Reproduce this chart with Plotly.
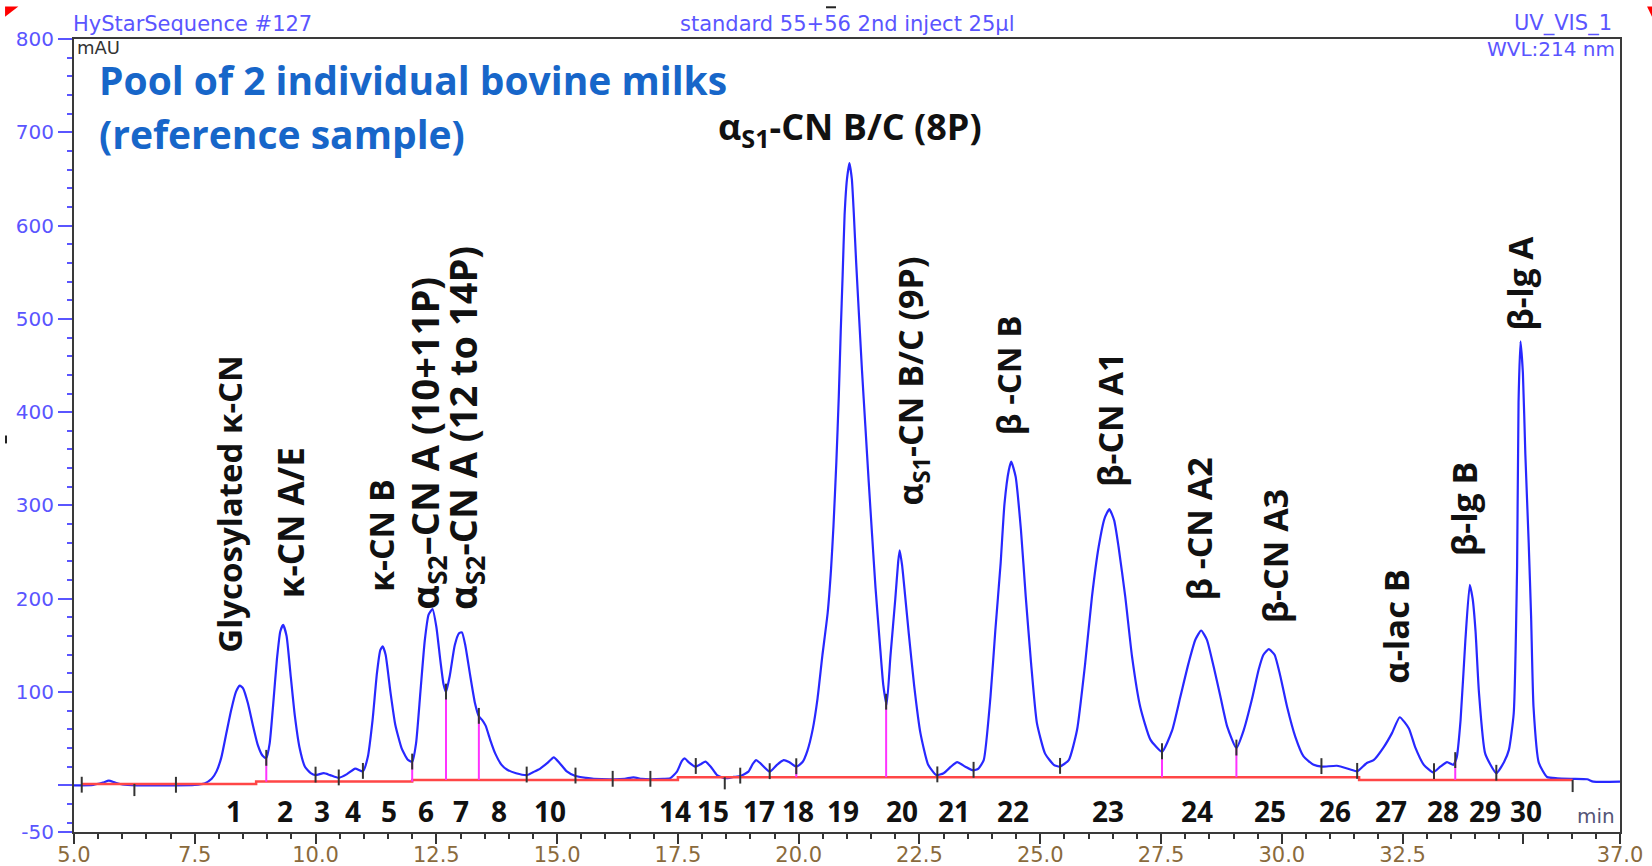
import numpy as np
import plotly.graph_objects as go

# ---------------- data ----------------
time_min = [5.0, 5.4, 5.6, 5.72, 5.85, 6.0, 6.3, 7.0, 7.5, 7.7, 7.85, 7.95, 8.05, 8.15, 8.25, 8.35, 8.43, 8.5, 8.6, 8.7,
            8.8, 8.9, 8.98, 9.05, 9.12, 9.2, 9.27, 9.33, 9.4, 9.48, 9.57, 9.67, 9.78, 9.9, 10.0, 10.17, 10.3, 10.48,
            10.65, 10.82, 10.98, 11.08, 11.18, 11.27, 11.34, 11.39, 11.45, 11.55, 11.65, 11.78, 11.9, 12.0, 12.08,
            12.17, 12.26, 12.34, 12.42, 12.5, 12.58, 12.65, 12.7, 12.78, 12.88, 12.97, 13.03, 13.1, 13.2, 13.3, 13.38,
            13.45, 13.52, 13.62, 13.72, 13.85, 13.96, 14.15, 14.38, 14.5, 14.65, 14.8, 14.93, 15.05, 15.2, 15.38,
            15.6, 15.76, 16.17, 16.4, 16.58, 16.75, 16.93, 17.2, 17.34, 17.48, 17.58, 17.64, 17.72, 17.86, 17.98,
            18.07, 18.18, 18.31, 18.48, 18.65, 18.8, 18.96, 19.05, 19.12, 19.2, 19.4, 19.55, 19.69, 19.8, 19.95,
            20.08, 20.18, 20.29, 20.39, 20.49, 20.6, 20.67, 20.72, 20.78, 20.83, 20.87, 20.91, 20.95, 21.0, 21.05,
            21.1, 21.14, 21.19, 21.25, 21.31, 21.38, 21.45, 21.52, 21.59, 21.68, 21.75, 21.82, 21.9, 22.0, 22.06,
            22.09, 22.14, 22.2, 22.28, 22.39, 22.52, 22.68, 22.85, 23.0, 23.15, 23.28, 23.45, 23.61, 23.72, 23.83,
            23.97, 24.07, 24.18, 24.26, 24.35, 24.4, 24.49, 24.6, 24.7, 24.81, 24.93, 25.1, 25.28, 25.4, 25.59,
            25.76, 25.93, 26.07, 26.21, 26.33, 26.43, 26.53, 26.62, 26.76, 26.9, 27.07, 27.28, 27.52, 27.73, 27.9,
            28.07, 28.21, 28.33, 28.45, 28.59, 28.73, 28.87, 29.06, 29.21, 29.38, 29.52, 29.62, 29.73, 29.85, 29.97,
            30.11, 30.28, 30.45, 30.66, 30.83, 31.14, 31.42, 31.56, 31.76, 31.9, 32.11, 32.28, 32.44, 32.63, 32.76,
            32.94, 33.13, 33.28, 33.42, 33.55, 33.62, 33.7, 33.8, 33.89, 33.95, 34.01, 34.08, 34.21, 34.44, 34.6,
            34.7, 34.8, 34.87, 34.9, 34.94, 34.99, 35.04, 35.11, 35.16, 35.21, 35.32, 35.49, 35.7, 36.0, 36.32,
            36.45, 37.0]
absorbance_mAU = [0, 0.5, 3, 5, 3, 1, 0, 0, 0.5, 2, 7, 15, 30, 55, 80, 100, 107, 104, 88, 65,
                  44, 32, 29, 45, 85, 135, 165, 172, 160, 120, 75, 40, 20, 13, 11, 13, 11, 8,
                  12, 18, 15, 30, 70, 120, 145, 149, 140, 100, 65, 40, 28, 25, 45,
                  100, 155, 183, 189, 170, 135, 108, 100, 118, 150, 163, 164, 150, 118, 88, 74,
                  70, 64, 48, 34, 22, 17, 13, 11, 14, 18, 24, 30, 24, 15, 10,
                  8, 7, 6.5, 7, 8.6, 7, 6.5, 7, 7.6, 14.7, 26, 29, 25, 20, 23,
                  25.4, 20, 11, 7.6, 9, 10, 14.7, 23, 27, 24, 14.7, 22, 27, 25, 20,
                  25, 37, 60, 93, 139, 185, 232, 278, 347, 417, 486, 547, 611, 650, 667,
                  650, 614, 560, 502, 445, 385, 325, 268, 212, 152, 108, 86, 139, 200, 240,
                  252, 236, 205, 162, 107, 56, 22, 11, 13, 20, 25, 20, 16, 18, 27,
                  95, 166, 238, 302, 338, 347, 331, 274, 202, 131, 67, 34, 22, 20, 27,
                  59, 131, 202, 256, 286, 296, 284, 256, 202, 138, 84, 49, 36, 59, 95,
                  131, 156, 166, 156, 127, 95, 63, 40, 59, 92, 124, 140, 146, 140, 117,
                  84, 52, 31, 22, 20, 21, 17, 15, 24, 27, 41, 56, 73, 61, 41,
                  22, 14, 20, 25, 22, 30, 70, 156, 215, 200, 165, 100, 34, 13, 25,
                  38, 77, 234, 410, 476, 442, 356, 260, 181, 84, 24, 9, 7.6, 7, 6.5,
                  4, 4]

# integration baseline segments (start, end, level in mAU)
baseline_start = [5.16, 8.77, 12.0, 17.5, 31.6]
baseline_end = [8.77, 12.0, 17.5, 31.6, 36.02]
baseline_level = [1.5, 4.0, 5.8, 8.7, 5.8]

# peak boundary markers (min) and those with perpendicular drop lines
boundary_times = [5.16, 6.25, 7.11, 8.98, 10.0, 10.48, 10.98, 12.0, 12.70, 13.38, 14.37, 15.38, 16.15, 16.93,
                  17.87, 18.47, 18.79, 19.4, 19.95, 21.81, 22.87, 23.62, 25.41, 27.52, 29.06, 30.82, 31.56,
                  33.15, 33.59, 34.44, 36.02]
boundary_below = [6.25, 18.47, 36.02]
drop_times = [8.98, 12.0, 12.70, 13.38, 19.95, 21.81, 27.52, 29.06, 33.59]

# peak numbers and where they are printed along the time axis
peak_numbers = ["1", "2", "3", "4", "5", "6", "7", "8", "10", "14", "15", "17", "18", "19", "20", "21", "22",
                "23", "24", "25", "26", "27", "28", "29", "30"]
peak_number_times = [8.31, 9.36, 10.14, 10.78, 11.52, 12.28, 13.02, 13.79, 14.85, 17.43, 18.23, 19.17, 19.98,
                     20.91, 22.13, 23.22, 24.44, 26.40, 28.25, 29.76, 31.11, 32.25, 33.34, 34.21, 35.06]

# protein names
protein_names = ["Glycosylated κ-CN", "κ-CN A/E", "κ-CN B", "α<sub>S2</sub>–CN A (10+11P)",
                 "α<sub>S2</sub>-CN A (12 to 14P)", "α<sub>S1</sub>-CN B/C (9P)", "β -CN B", "β-CN A1",
                 "β -CN A2", "β-CN A3", "α-lac B", "β-lg B", "β-lg A"]
protein_times = [8.23, 9.47, 11.37, 12.30, 13.07, 22.35, 24.36, 26.43, 28.28, 29.85, 32.36, 33.77, 34.93]
main_peak_name = "α<sub>S1</sub>-CN B/C (8P)"
main_peak_time = 21.07

x_tick_values = [5.0, 7.5, 10.0, 12.5, 15.0, 17.5, 20.0, 22.5, 25.0, 27.5, 30.0, 32.5, 35.0, 37.0]
x_tick_text = ["5.0", "7.5", "10.0", "12.5", "15.0", "17.5", "20.0", "22.5", "25.0", "27.5", "30.0", "32.5", "", "37.0"]
y_tick_values = [-50, 0, 100, 200, 300, 400, 500, 600, 700, 800]
y_tick_text = ["-50", "", "100", "200", "300", "400", "500", "600", "700", "800"]

# ---------------- layout placements (label centres, mAU) and sizes ----------------
protein_label_y = [302, 282, 268, 367, 383, 433, 440, 392, 275, 245, 171, 297, 539]
protein_label_size = [33, 35, 34, 38, 38, 34, 33, 34, 34, 34, 34.5, 34, 33.5]
main_label_y = 704
peak_number_y = -28

# ---------------- styles ----------------
BLUE = "rgb(40,40,255)"
AXBLUE = "#5a55ff"
BROWN = "#8a6a3c"
LABEL_FONT = "Open Sans"
HF = "DejaVu Sans"

fig = go.Figure()

fig.add_trace(go.Scatter(x=time_min, y=absorbance_mAU, mode="lines",
                         line=dict(color=BLUE, width=2.2, shape="spline", smoothing=0.5),
                         hoverinfo="skip", showlegend=False))

# baseline
bx, by = [], []
for s, e, l in zip(baseline_start, baseline_end, baseline_level):
    bx += [s, e]
    by += [l, l]
fig.add_trace(go.Scatter(x=bx, y=by, mode="lines", line=dict(color="rgb(255,70,70)", width=2.5),
                         hoverinfo="skip", showlegend=False))


def base_at(t):
    for s, e, l in zip(baseline_start, baseline_end, baseline_level):
        if s - 1e-9 <= t <= e + 1e-9:
            return l
    return 0.0


# drop lines
dx, dy = [], []
for t in drop_times:
    v = float(np.interp(t, time_min, absorbance_mAU))
    dx += [t, t, None]
    dy += [base_at(t), v, None]
fig.add_trace(go.Scatter(x=dx, y=dy, mode="lines", line=dict(color="#ff33ff", width=2),
                         hoverinfo="skip", showlegend=False))

# boundary tick marks
tx, ty = [], []
for t in boundary_times:
    v = float(np.interp(t, time_min, absorbance_mAU))
    tx += [t, t, None]
    if t in boundary_below:
        ty += [base_at(t) - 13, base_at(t), None]
    else:
        ty += [v - 8, v + 9, None]
fig.add_trace(go.Scatter(x=tx, y=ty, mode="lines", line=dict(color="#333333", width=2),
                         hoverinfo="skip", showlegend=False))

ann = []
for n, t in zip(peak_numbers, peak_number_times):
    ann.append(dict(x=t, y=peak_number_y, xref="x", yref="y", text=n, showarrow=False,
                    font=dict(family=LABEL_FONT, size=28, color="#111111", weight="bold"),
                    xanchor="center", yanchor="middle"))
for name, t, yv, sz in zip(protein_names, protein_times, protein_label_y, protein_label_size):
    ann.append(dict(x=t, y=yv, xref="x", yref="y", text=name, showarrow=False, textangle=-90,
                    font=dict(family=LABEL_FONT, size=sz, color="#111111", weight="bold"),
                    xanchor="center", yanchor="middle"))
ann.append(dict(x=main_peak_time, y=main_label_y, xref="x", yref="y", text=main_peak_name, showarrow=False,
                font=dict(family=LABEL_FONT, size=36, color="#111111", weight="bold"),
                xanchor="center", yanchor="middle"))

# titles / instrument text (paper coordinates)
ann.append(dict(x=0.0149, y=0.949, xref="paper", yref="paper", text="Pool of 2 individual bovine milks",
                showarrow=False, xanchor="left", yanchor="middle",
                font=dict(family=LABEL_FONT, size=39, color="#1766c9", weight="bold")))
ann.append(dict(x=0.0149, y=0.881, xref="paper", yref="paper", text="(reference sample)",
                showarrow=False, xanchor="left", yanchor="middle",
                font=dict(family=LABEL_FONT, size=39, color="#1766c9", weight="bold")))
ann.append(dict(x=-0.002, y=1.019, xref="paper", yref="paper", text="HyStarSequence #127", showarrow=False,
                xanchor="left", yanchor="middle", font=dict(family=HF, size=21, color=AXBLUE)))
ann.append(dict(x=0.5, y=1.019, xref="paper", yref="paper", text="standard 55+56 2nd inject 25µl",
                showarrow=False, xanchor="center", yanchor="middle", font=dict(family=HF, size=21, color=AXBLUE)))
ann.append(dict(x=0.996, y=1.019, xref="paper", yref="paper", text="UV_VIS_1", showarrow=False,
                xanchor="right", yanchor="middle", font=dict(family=HF, size=21, color=AXBLUE)))
ann.append(dict(x=0.998, y=0.988, xref="paper", yref="paper", text="WVL:214 nm", showarrow=False,
                xanchor="right", yanchor="middle", font=dict(family=HF, size=20, color=AXBLUE)))
ann.append(dict(x=0.0005, y=0.989, xref="paper", yref="paper", text="mAU", showarrow=False,
                xanchor="left", yanchor="middle", font=dict(family=HF, size=18, color="#333333")))
ann.append(dict(x=0.998, y=0.02, xref="paper", yref="paper", text="min", showarrow=False,
                xanchor="right", yanchor="middle", font=dict(family=HF, size=20, color="#555577")))

shapes = [
    dict(type="path", xref="paper", yref="paper", path="M -0.0446 1.041 L -0.036 1.041 L -0.0446 1.028 Z",
         fillcolor="red", line=dict(width=0)),
    dict(type="path", xref="paper", yref="paper", path="M 1.0175 1.041 L 1.0207 1.041 L 1.0207 1.028 Z",
         fillcolor="red", line=dict(width=0)),
    dict(type="line", xref="paper", yref="paper", x0=0.4864, x1=0.4929, y0=1.040, y1=1.040,
         line=dict(color="#222222", width=2)),
    dict(type="line", xref="paper", yref="paper", x0=-0.0440, x1=-0.0440, y0=0.500, y1=0.490,
         line=dict(color="#222222", width=2)),
]

fig.update_layout(
    width=1652, height=866, margin=dict(l=74, r=32, t=39, b=34, autoexpand=False),
    paper_bgcolor="white", plot_bgcolor="white",
    annotations=ann, shapes=shapes, showlegend=False,
    xaxis=dict(range=[5, 37], tickmode="array", tickvals=x_tick_values, ticktext=x_tick_text,
               automargin=False, ticklabelstandoff=-7,
               showgrid=False, zeroline=False, showline=True, linecolor="#3a3a3a", linewidth=2, mirror=True,
               ticks="outside", ticklen=10, tickwidth=2, tickcolor="#333333",
               tickfont=dict(family=HF, size=21, color=BROWN),
               minor=dict(tickmode="linear", tick0=5, dtick=0.5, ticks="outside", ticklen=5, tickwidth=1.5,
                          tickcolor="#333333", showgrid=False)),
    yaxis=dict(range=[-50, 800], tickmode="array", tickvals=y_tick_values, ticktext=y_tick_text,
               automargin=False,
               showgrid=False, zeroline=False, showline=True, linecolor="#3a3a3a", linewidth=2, mirror=True,
               ticks="outside", ticklen=14, tickwidth=2, tickcolor=AXBLUE,
               tickfont=dict(family=HF, size=20, color=AXBLUE),
               minor=dict(tickmode="linear", tick0=0, dtick=20, ticks="outside", ticklen=5, tickwidth=2,
                          tickcolor=AXBLUE, showgrid=False)),
)

fig.write_html("out.html")
